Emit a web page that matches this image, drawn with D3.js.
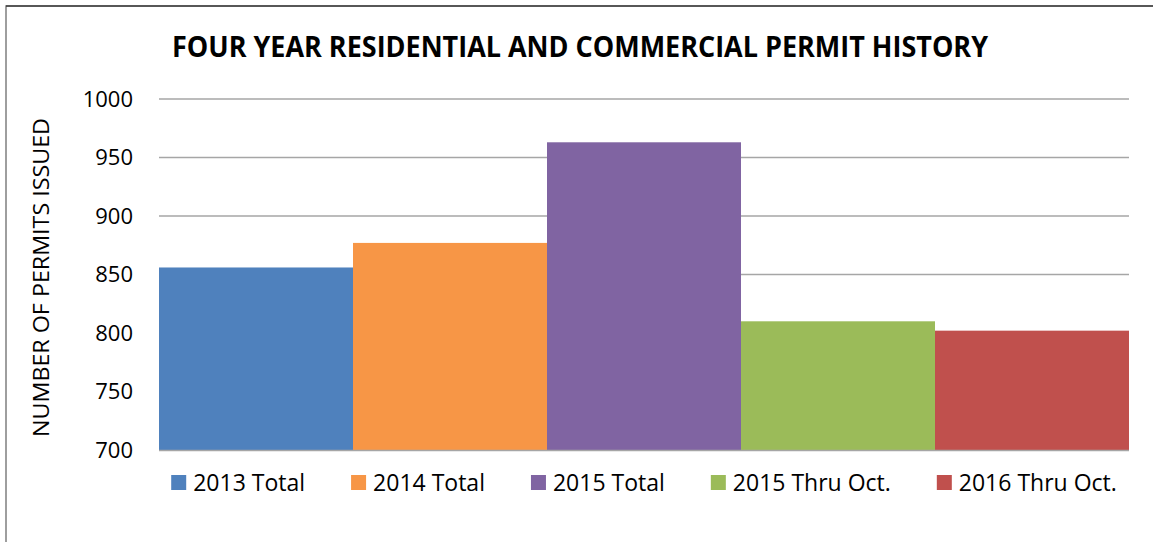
<!DOCTYPE html>
<html>
<head>
<meta charset="utf-8">
<script src="https://cdn.jsdelivr.net/npm/d3@7"></script>
<style>
  body { margin: 0; background: #fff; }
  text { font-family: "Open Sans", "Liberation Sans", sans-serif; fill: #000; }
</style>
</head>
<body>
<div id="chart"></div>
<script>
// Chart data
const categories = ['2013 Total', '2014 Total', '2015 Total', '2015 Thru Oct.', '2016 Thru Oct.'];
const permits = [856, 877, 963, 810, 802];
const colors = ['#4f81bd', '#f79646', '#8064a2', '#9bbb59', '#c0504d'];
const yTicks = [700, 750, 800, 850, 900, 950, 1000];

const width = 1153;
const height = 542;
const margin = { top: 99, right: 24, bottom: 92, left: 159 };
const plotW = width - margin.left - margin.right;
const plotH = height - margin.top - margin.bottom;

const svg = d3.select('#chart').append('svg')
    .attr('width', width)
    .attr('height', height);

// Outer chart frame (only top and left edges are visible)
svg.append('path')
    .attr('d', `M6,${height} L6,6 L${width},6`)
    .attr('fill', 'none')
    .attr('stroke', '#7f7f7f')
    .attr('stroke-width', 1.5);
svg.append('line')
    .attr('x1', 6).attr('x2', width)
    .attr('y1', 6).attr('y2', 6)
    .attr('stroke', '#111')
    .attr('stroke-width', 1.2);

const g = svg.append('g')
    .attr('transform', `translate(${margin.left},${margin.top})`);

const x = d3.scaleBand()
    .domain(categories)
    .range([0, plotW])
    .padding(0);

const y = d3.scaleLinear()
    .domain([700, 1000])
    .range([plotH, 0]);

// Gridlines
g.selectAll('.grid')
    .data(yTicks.filter(t => t > 700))
    .enter()
    .append('line')
    .attr('class', 'grid')
    .attr('x1', 0)
    .attr('x2', plotW)
    .attr('y1', d => y(d))
    .attr('y2', d => y(d))
    .attr('stroke', '#a6a6a6')
    .attr('stroke-width', 1.5);

// Bars
g.selectAll('.bar')
    .data(permits)
    .enter()
    .append('rect')
    .attr('class', 'bar')
    .attr('x', (d, i) => x(categories[i]))
    .attr('y', d => y(d))
    .attr('width', x.bandwidth())
    .attr('height', d => plotH - y(d))
    .attr('fill', (d, i) => colors[i]);

// Baseline
g.append('line')
    .attr('x1', 0)
    .attr('x2', plotW)
    .attr('y1', plotH + 0.5)
    .attr('y2', plotH + 0.5)
    .attr('stroke', '#a6a6a6')
    .attr('stroke-width', 1.5);

// Y axis labels
const yAxis = g.append('g')
    .call(d3.axisLeft(y).tickValues(yTicks).tickSize(0).tickPadding(26).tickFormat(d3.format('d')));
yAxis.select('.domain').remove();
yAxis.selectAll('text')
    .style('font-size', '22px')
    .style('font-family', '"Open Sans", sans-serif')
    .attr('fill', '#000');

// Y axis title
svg.append('text')
    .attr('transform', `translate(49,${(118 + 437) / 2}) rotate(-90)`)
    .attr('text-anchor', 'middle')
    .attr('textLength', 319)
    .attr('lengthAdjust', 'spacingAndGlyphs')
    .style('font-size', '22px')
    .text('NUMBER OF PERMITS ISSUED');

// Title
svg.append('text')
    .attr('x', 172)
    .attr('y', 57)
    .attr('textLength', 816)
    .attr('lengthAdjust', 'spacingAndGlyphs')
    .style('font-size', '28px')
    .style('font-weight', 'bold')
    .text('FOUR YEAR RESIDENTIAL AND COMMERCIAL PERMIT HISTORY');

// Legend
const legend = svg.append('g').attr('transform', 'translate(0,482)');
const items = legend.selectAll('.legend-item')
    .data(categories)
    .enter()
    .append('g')
    .attr('class', 'legend-item');

items.append('rect')
    .attr('x', 0)
    .attr('y', -7)
    .attr('width', 15)
    .attr('height', 15)
    .attr('fill', (d, i) => colors[i]);

items.append('text')
    .attr('x', 22)
    .attr('y', 8.5)
    .style('font-size', '23px')
    .text(d => d);

// Lay out legend items in a centred row
const gap = 46;
const widths = [];
items.each(function () {
    widths.push(22 + d3.select(this).select('text').node().getComputedTextLength());
});
const total = d3.sum(widths) + gap * (widths.length - 1);
let cursor = margin.left + plotW / 2 - total / 2;
items.attr('transform', (d, i) => {
    const tx = cursor;
    cursor += widths[i] + gap;
    return `translate(${tx},0)`;
});
</script>
</body>
</html>
